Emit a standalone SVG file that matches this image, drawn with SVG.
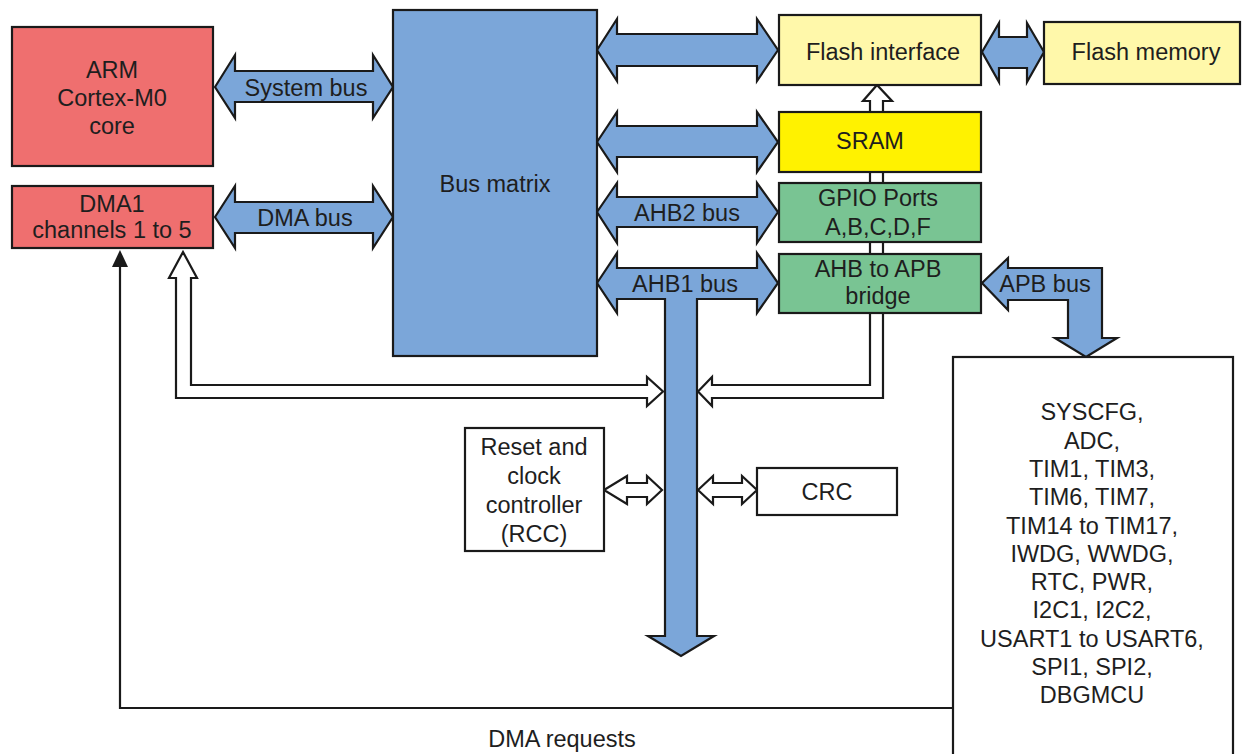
<svg xmlns="http://www.w3.org/2000/svg" width="1244" height="754" viewBox="0 0 1244 754">
<defs>
<style>
.box{stroke:#1a1a1a;stroke-width:2.2}
.red{fill:#EF6F6F}
.blue{fill:#7BA6D9}
.ly{fill:#FFF8AA}
.yel{fill:#FFF200}
.grn{fill:#79C493}
.wht{fill:#ffffff}
.bus{fill:#7BA6D9;stroke:#1a1a1a;stroke-width:2.2;stroke-linejoin:miter}
.hol{fill:#ffffff;stroke:#1a1a1a;stroke-width:2.2;stroke-linejoin:miter}
.ln{fill:none;stroke:#1a1a1a;stroke-width:2.2}
text{font-family:"Liberation Sans",Arial,sans-serif;font-size:23.5px;fill:#1e1e1e;text-anchor:middle}
</style>
</defs>
<rect width="1244" height="754" fill="#ffffff"/>

<g id="connectors">
  <!-- hollow L arrow DMA1 <-> AHB1 -->
  <polygon class="hol" points="183,252 197,278 191,278 191,385 647,385 647,377 663,391.5 647,406 647,398 176,398 176,278 169,278"/>
  <!-- hollow arrow AHB1 <- bridge ... up to flash interface -->
  <polygon class="hol" points="698,391.5 712,377 712,385 870,385 870,101 863,101 877,85 892,101 883,101 883,398 712,398 712,406"/>
  <!-- DMA requests line -->
  <polyline class="ln" points="953,708 120,708 120,265"/>
  <polygon points="120,250 128,267 112,267" fill="#1a1a1a"/>
  <!-- System bus -->
  <polygon class="bus" points="215,87 235,55 235,71 373,71 373,55 393,87 373,118 373,102 235,102 235,118"/>
  <!-- DMA bus -->
  <polygon class="bus" points="215,217 235,186 235,202 373,202 373,186 393,217 373,248 373,233 235,233 235,248"/>
  <!-- Bus matrix -> Flash interface -->
  <polygon class="bus" points="597,50 617,19 617,34 757,34 757,19 778,50 757,81 757,66 617,66 617,81"/>
  <!-- Flash interface <-> Flash memory -->
  <polygon class="bus" points="982,52 999,23 999,37 1027,37 1027,23 1044,52 1027,82 1027,68 999,68 999,82"/>
  <!-- SRAM -->
  <polygon class="bus" points="597,142 617,112 617,126 757,126 757,112 778,142 757,172 757,157 617,157 617,172"/>
  <!-- AHB2 -->
  <polygon class="bus" points="597,212 617,183 617,197 757,197 757,183 778,212 757,243 757,227 617,227 617,243"/>
  <!-- AHB1 with vertical shaft -->
  <polygon class="bus" points="597,283 617,253 617,268 757,268 757,253 778,283 757,313 757,299 697,299 697,636 714,636 681,656 648,636 665,636 665,299 617,299 617,313"/>
  <!-- APB bus -->
  <polygon class="bus" points="982,283 1008,258 1008,268 1102,268 1102,338 1117,338 1086,357 1055,338 1068,338 1068,300 1008,300 1008,310"/>
  <!-- RCC <-> AHB1 -->
  <polygon class="hol" points="604,490 627,476 627,483 647,483 647,476 662,490 647,504 647,497 627,497 627,504"/>
  <!-- CRC <-> AHB1 -->
  <polygon class="hol" points="698,490 713,476 713,483 742,483 742,476 757,490 742,504 742,497 713,497 713,504"/>
  <text x="306" y="96">System bus</text>
  <text x="305" y="226">DMA bus</text>
  <text x="687" y="221">AHB2 bus</text>
  <text x="685" y="292">AHB1 bus</text>
  <text x="1045" y="292">APB bus</text>
  <text x="562" y="747">DMA requests</text>
</g>

<g id="arm">
  <rect class="box red" x="12" y="27" width="201" height="139"/>
  <text x="112" y="78">ARM</text>
  <text x="112" y="106">Cortex-M0</text>
  <text x="112" y="134">core</text>
</g>
<g id="dma1">
  <rect class="box red" x="12" y="186" width="201" height="62"/>
  <text x="112" y="212">DMA1</text>
  <text x="112" y="238">channels 1 to 5</text>
</g>
<g id="busmatrix">
  <rect class="box blue" x="393" y="10" width="204" height="346"/>
  <text x="495" y="192">Bus matrix</text>
</g>
<g id="flashif">
  <rect class="box ly" x="779" y="15" width="202" height="70"/>
  <text x="883" y="60">Flash interface</text>
</g>
<g id="flashmem">
  <rect class="box ly" x="1044" y="22" width="196" height="62"/>
  <text x="1146" y="60">Flash memory</text>
</g>
<g id="sram">
  <rect class="box yel" x="779" y="112" width="202" height="60"/>
  <text x="870" y="149">SRAM</text>
</g>
<g id="gpio">
  <rect class="box grn" x="779" y="183" width="202" height="59"/>
  <text x="878" y="206">GPIO Ports</text>
  <text x="878" y="235">A,B,C,D,F</text>
</g>
<g id="bridge">
  <rect class="box grn" x="779" y="254" width="202" height="59"/>
  <text x="878" y="277">AHB to APB</text>
  <text x="878" y="304">bridge</text>
</g>
<g id="rcc">
  <rect class="box wht" x="465" y="428" width="139" height="123"/>
  <text x="534" y="455">Reset and</text>
  <text x="534" y="484">clock</text>
  <text x="534" y="513">controller</text>
  <text x="534" y="542">(RCC)</text>
</g>
<g id="crc">
  <rect class="box wht" x="757" y="468" width="140" height="47"/>
  <text x="827" y="500">CRC</text>
</g>
<g id="apbperiph">
  <rect class="box wht" x="953" y="357" width="280" height="410"/>
  <text x="1092" y="420">SYSCFG,</text>
  <text x="1092" y="449">ADC,</text>
  <text x="1092" y="477">TIM1, TIM3,</text>
  <text x="1092" y="505">TIM6, TIM7,</text>
  <text x="1092" y="534">TIM14 to TIM17,</text>
  <text x="1092" y="562">IWDG, WWDG,</text>
  <text x="1092" y="590">RTC, PWR,</text>
  <text x="1092" y="618">I2C1, I2C2,</text>
  <text x="1092" y="647">USART1 to USART6,</text>
  <text x="1092" y="675">SPI1, SPI2,</text>
  <text x="1092" y="703">DBGMCU</text>
</g>
</svg>
